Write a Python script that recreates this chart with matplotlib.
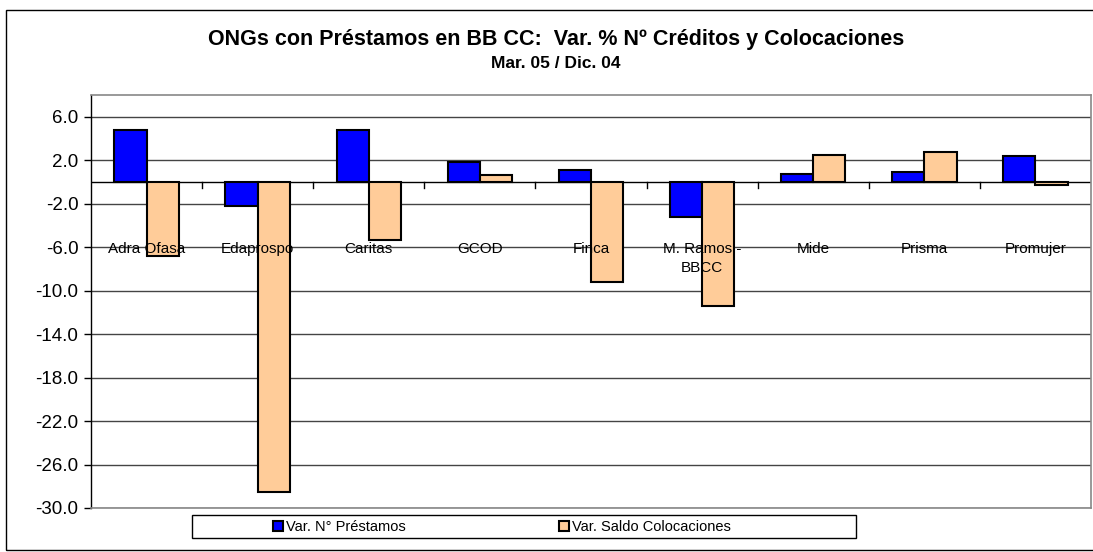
import matplotlib.pyplot as plt
from matplotlib.patches import Rectangle, Patch
import numpy as np

plt.rcParams['font.family'] = ['Liberation Sans', 'DejaVu Sans']

# data
categories = ["Adra Ofasa", "Edaprospo", "Caritas", "GCOD", "Finca",
              "M. Ramos -\nBBCC", "Mide", "Prisma", "Promujer"]
var_prestamos = [4.8, -2.2, 4.8, 1.8, 1.1, -3.2, 0.7, 0.9, 2.4]
var_saldo = [-6.8, -28.5, -5.3, 0.6, -9.2, -11.4, 2.5, 2.8, -0.3]
yticks = [-30, -26, -22, -18, -14, -10, -6, -2, 2, 6]

title = "ONGs con Préstamos en BB CC:  Var. % Nº Créditos y Colocaciones"
subtitle = "Mar. 05 / Dic. 04"
leg_labels = ["Var. N° Préstamos", "Var. Saldo Colocaciones"]

fig = plt.figure(figsize=(10.93, 5.52), dpi=100)
W, H = 1093, 552

# outer chart border
fig.patches.append(Rectangle((6 / W, 1 - 550 / H), 1.2, (550 - 10) / H,
                             transform=fig.transFigure, fill=False,
                             edgecolor='black', lw=1.0))

ax = fig.add_axes([91 / W, 1 - 508 / H, 1000 / W, (508 - 95) / H])

x = np.arange(len(categories))
bw = 0.29
ax.bar(x - bw / 2, var_prestamos, bw, color='#0000FF', edgecolor='black', lw=1.5, zorder=3)
ax.bar(x + bw / 2, var_saldo, bw, color='#FFCC99', edgecolor='black', lw=1.5, zorder=3)

ax.set_xlim(-0.5, len(categories) - 0.5)
ax.set_ylim(-30, 8)
ax.set_yticks(yticks)
ax.set_yticklabels([f"{v:.1f}" for v in yticks], fontsize=13.5)
ax.yaxis.grid(True, color='#444444', lw=1.0, zorder=0)
ax.tick_params(axis='y', length=5, width=1, direction='out', pad=4)
ax.set_xticks([])

for s in ax.spines.values():
    s.set_color('#888888')
    s.set_linewidth(1.2)
ax.spines['left'].set_color('black')
ax.spines['left'].set_linewidth(1.0)

# zero axis with category boundary ticks
ax.axhline(0, color='black', lw=1.0, zorder=2)
for b in np.arange(0.5, len(categories) - 0.5, 1.0):
    ax.plot([b, b], [0, -0.6], color='black', lw=1.0, zorder=2)

# category labels drawn inside plot
for xi, lab in zip(x, categories):
    ax.text(xi, -5.5, lab, ha='center', va='top', fontsize=11, zorder=4,
            linespacing=1.5)

fig.text(556 / W, 1 - 39 / H, title, ha='center', va='center',
         fontsize=15.5, fontweight='bold')
fig.text(556 / W, 1 - 63 / H, subtitle, ha='center', va='center',
         fontsize=12.5, fontweight='bold')

# legend frame
fig.patches.append(Rectangle((192 / W, 1 - 538 / H), 664 / W, 23 / H,
                             transform=fig.transFigure, fill=True, facecolor='white',
                             edgecolor='black', lw=1.0))
handles = [Patch(facecolor='#0000FF', edgecolor='black', lw=1.5),
           Patch(facecolor='#FFCC99', edgecolor='black', lw=1.5)]
fig.legend(handles, leg_labels, loc='center left', bbox_to_anchor=(273 / W, 1 - 527 / H),
           ncol=2, frameon=False, fontsize=10.5, handlelength=0.7, handleheight=0.7,
           handletextpad=0.2, columnspacing=10.5, borderpad=0, borderaxespad=0)

fig.savefig("out.png", dpi=100)
